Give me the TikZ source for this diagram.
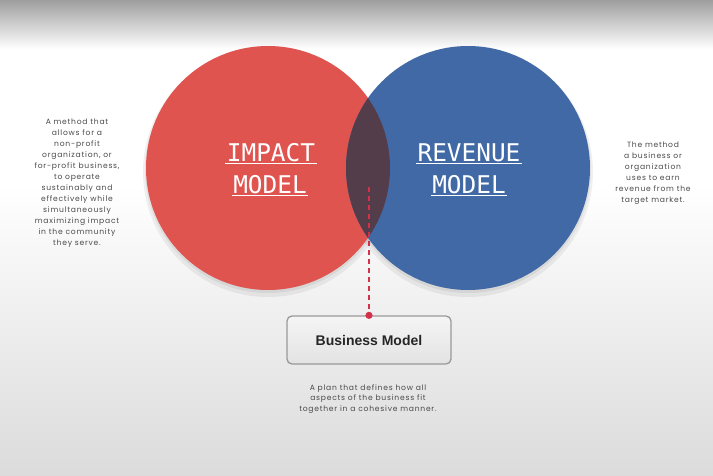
\documentclass[tikz,border=0pt]{standalone}
\usepackage{fontspec}
\setmainfont{Poppins}
\newfontfamily\monofont{DejaVu Sans Mono}
\newfontfamily\arialfont{Liberation Sans}
\newfontfamily\descfont[LetterSpace=10]{Poppins}
\definecolor{redc}{HTML}{E05450}
\definecolor{bluec}{HTML}{4169A5}
\definecolor{lensc}{HTML}{543D4A}
\definecolor{dashc}{HTML}{D3304A}
\definecolor{txtc}{HTML}{4A4A4A}
\tikzset{
  desc/.style={font=\descfont\fontsize{7.6}{11}\selectfont, text=txtc, align=center, inner sep=0pt},
  biglabel/.style={font=\monofont\fontsize{24.4}{26}\selectfont, text=white, inner sep=0pt, anchor=base},
  uline/.style={white, line width=1.4pt},
  bmbox/.style={draw=black!40, line width=1.3pt, rounded corners=5pt, top color=black!4, bottom color=black!11, minimum width=164pt, minimum height=48pt, font=\arialfont\bfseries\fontsize{14}{16}\selectfont, text=black!85},
  dashline/.style={dashc, line width=1.8pt, dash pattern=on 5pt off 4pt},
}
\begin{document}
\begin{tikzpicture}[x=1pt,y=1pt]
\useasboundingbox (0,0) rectangle (713,475);
% background
\fill[white] (0,0) rectangle (713,475);
\shade[top color=black!38, bottom color=white] (0,475) rectangle (713,426);
\shade[top color=white, bottom color=black!14] (0,290) rectangle (713,0);
% shadows
\fill[black, opacity=0.06] (268,303) circle (125);
\fill[black, opacity=0.06] (468,303) circle (125);
\fill[black, opacity=0.06] (268,305) circle (123);
\fill[black, opacity=0.06] (468,305) circle (123);
% circles
\fill[redc] (268,307) circle (122);
\fill[bluec] (468,307) circle (122);
\begin{scope}
  \clip (268,307) circle (122);
  \fill[lensc] (468,307) circle (122);
\end{scope}
% labels
\node[biglabel] (imp) at (271,313.5) {IMPACT};
\node[biglabel] (mod1) at (270,281.7) {MODEL};
\node[biglabel] (rev) at (469,313.5) {REVENUE};
\node[biglabel] (mod2) at (469,281.7) {MODEL};
\draw[uline] ([xshift=-1.5pt,yshift=-2.2pt]imp.base west) -- ([xshift=1.5pt,yshift=-2.2pt]imp.base east);
\draw[uline] ([xshift=-1.5pt,yshift=-2.2pt]mod1.base west) -- ([xshift=1.5pt,yshift=-2.2pt]mod1.base east);
\draw[uline] ([xshift=-1.5pt,yshift=-2.2pt]rev.base west) -- ([xshift=1.5pt,yshift=-2.2pt]rev.base east);
\draw[uline] ([xshift=-1.5pt,yshift=-2.2pt]mod2.base west) -- ([xshift=1.5pt,yshift=-2.2pt]mod2.base east);
% business model
\node[bmbox] (bm) at (369,135) {Business Model};
\coordinate (ds) at (369,288);
\draw[dashline] (ds) -- (bm.north);
\fill[dashc] (bm.north) circle (3.6);
% descriptions
\node[desc] (ldesc) at (77,292) {A method that\\allows for a\\non-profit\\organization, or\\for-profit business,\\to operate\\sustainably and\\effectively while\\simultaneously\\maximizing impact\\in the community\\they serve.};
\node[desc] (rdesc) at (653,302) {The method\\a business or\\organization\\uses to earn\\revenue from the\\target market.};
\node[desc, font=\descfont\fontsize{7.6}{10.5}\selectfont] (bdesc) at (368,76) {A plan that defines how all\\aspects of the business fit\\together in a cohesive manner.};
\end{tikzpicture}
\end{document}
